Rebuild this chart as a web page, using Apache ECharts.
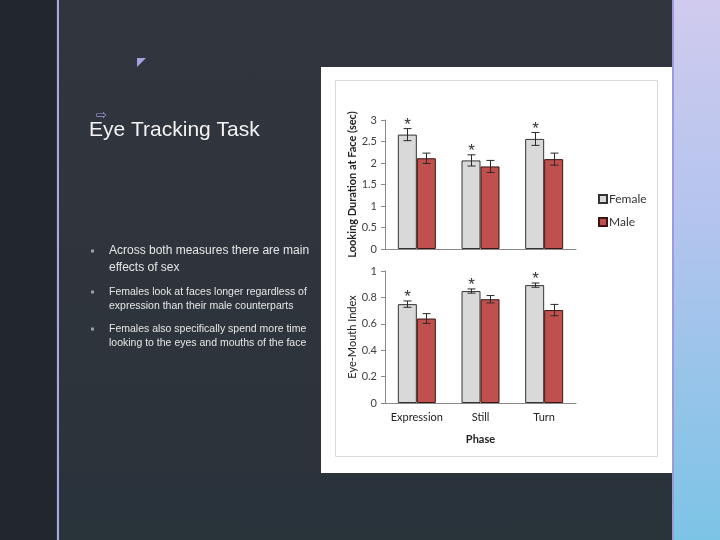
<!DOCTYPE html>
<html>
<head>
<meta charset="utf-8">
<script src="https://cdn.jsdelivr.net/npm/echarts@6/dist/echarts.min.js"></script>
<style>
  html, body { margin: 0; padding: 0; }
  #slide {
    width: 720px; height: 540px;
    background: linear-gradient(180deg, #31363e 0%, #2e343c 60%, #29333a 100%);
  }
</style>
</head>
<body>
<div id="slide"></div>
<script>
// chart data
var phases = ['Expression', 'Still', 'Turn'];
var seriesNames = ['Female', 'Male'];

var durationFemale = [2.66, 2.06, 2.56];
var durationFemaleErr = [0.14, 0.13, 0.15];
var durationMale = [2.11, 1.92, 2.09];
var durationMaleErr = [0.12, 0.14, 0.14];

var indexFemale = [0.749, 0.848, 0.893];
var indexFemaleErr = [0.024, 0.016, 0.016];
var indexMale = [0.640, 0.786, 0.704];
var indexMaleErr = [0.037, 0.028, 0.043];

var bullets = [
  ['Across both measures there are main', 'effects of sex'],
  ['Females look at faces longer regardless of', 'expression than their male counterparts'],
  ['Females also specifically spend more time', 'looking to the eyes and mouths of the face']
];

var chart = echarts.init(document.getElementById('slide'));

var BAR_W = 19;
var chartFont = 'Lato';
var tickColor = '#404040';

function errData(vals, errs) {
  return vals.map(function (v, i) { return [i, v, errs[i]]; });
}

// error bars, optional star above
function errRender(offset, star) {
  return function (params, api) {
    var i = api.value(0), v = api.value(1), e = api.value(2);
    var hi = api.coord([i, v + e]);
    var lo = api.coord([i, v - e]);
    var x = Math.round(hi[0] + offset) + 0.5;
    var st = { stroke: '#2a2a2a', lineWidth: 1 };
    var kids = [
      { type: 'line', shape: { x1: x, y1: hi[1], x2: x, y2: lo[1] }, style: st },
      { type: 'line', shape: { x1: x - 4, y1: hi[1], x2: x + 4, y2: hi[1] }, style: st },
      { type: 'line', shape: { x1: x - 4, y1: lo[1], x2: x + 4, y2: lo[1] }, style: st }
    ];
    if (star) {
      kids.push({
        type: 'text',
        style: {
          text: '*', x: x, y: hi[1] + 5, align: 'center', verticalAlign: 'bottom',
          fontSize: 17, fontFamily: 'Liberation Sans', fill: '#333'
        }
      });
    }
    return { type: 'group', children: kids };
  };
}

function valueAxis(gridIndex, max, interval, name, nameGap, weight) {
  return {
    type: 'value', gridIndex: gridIndex, min: 0, max: max, interval: interval,
    name: name, nameLocation: 'middle', nameRotate: 90, nameGap: nameGap,
    nameTextStyle: { color: '#222', fontSize: 11, fontWeight: weight, fontFamily: chartFont },
    axisLine: { show: true, lineStyle: { color: '#8a8a8a' } },
    axisTick: { show: true, length: 4, lineStyle: { color: '#8a8a8a' } },
    axisLabel: { color: tickColor, fontSize: 11, margin: 8, fontFamily: chartFont },
    splitLine: { show: false }
  };
}

// slide decoration + left text
var graphics = [
  { type: 'rect', z: -10, shape: { x: 0, y: 0, width: 57, height: 540 }, style: { fill: '#22272e' } },
  { type: 'rect', z: -10, shape: { x: 56, y: 0, width: 4, height: 540 }, style: { fill: '#2f3152' } },
  { type: 'rect', z: -10, shape: { x: 57, y: 0, width: 2, height: 540 }, style: { fill: '#a9a9da' } },
  {
    type: 'rect', z: -10, shape: { x: 672, y: 0, width: 48, height: 540 },
    style: {
      fill: new echarts.graphic.LinearGradient(0, 0, 0, 1, [
        { offset: 0, color: '#d0cbee' }, { offset: 0.4, color: '#b4c4ee' },
        { offset: 1, color: '#7cc4e6' }
      ])
    }
  },
  { type: 'rect', z: -10, shape: { x: 672, y: 0, width: 2, height: 540 }, style: { fill: '#9d9bd9' } },
  { type: 'polygon', z: -10, shape: { points: [[137, 58], [146, 58], [137, 67]] }, style: { fill: '#a3a3e3' } },
  {
    type: 'text', z: -10, x: 96, y: 116,
    style: { text: '\u21E8', fontSize: 13, fontFamily: 'DejaVu Sans', fill: '#9a9ad8', verticalAlign: 'middle' }
  },
  {
    type: 'text', z: -10, x: 89, y: 130,
    style: { text: 'Eye Tracking Task', fontSize: 21, fontFamily: 'Liberation Sans', fill: '#f2f2f2', verticalAlign: 'middle' }
  },
  // chart panel
  { type: 'rect', z: -10, shape: { x: 321, y: 67, width: 351, height: 406 }, style: { fill: '#ffffff' } },
  { type: 'rect', z: -9, shape: { x: 335.5, y: 80.5, width: 322, height: 376 }, style: { fill: 'none', stroke: '#d9d9d9', lineWidth: 1 } }
];

var bulletY = [251, 292, 329];
var bulletSize = [12, 10.5, 10.5];
var lineStep = [17, 14, 14];
bullets.forEach(function (lines, b) {
  graphics.push({ type: 'rect', z: -10, shape: { x: 91, y: bulletY[b] - 1.5, width: 3, height: 3 }, style: { fill: '#9aa0a8' } });
  lines.forEach(function (t, k) {
    graphics.push({
      type: 'text', z: -10, x: 109, y: bulletY[b] + k * lineStep[b],
      style: { text: t, fontSize: bulletSize[b], fontFamily: 'Liberation Sans', fill: '#e6e6e6', verticalAlign: 'middle' }
    });
  });
});

var femaleStyle = { color: '#d9d9d9', borderColor: '#333', borderWidth: 1 };
var maleStyle = { color: '#c0504d', borderColor: '#3a1514', borderWidth: 1 };

chart.setOption({
  animation: false,
  textStyle: { fontFamily: chartFont },
  graphic: graphics,
  legend: {
    data: seriesNames, orient: 'vertical', left: 593, top: 188,
    itemWidth: 8, itemHeight: 8, itemGap: 11, icon: 'rect',
    textStyle: { color: '#333', fontSize: 12, fontFamily: chartFont, padding: [0, 0, 0, -3] }
  },
  grid: [
    { left: 385, top: 120, width: 191, height: 129 },
    { left: 385, top: 271, width: 191, height: 132 }
  ],
  xAxis: [
    {
      type: 'category', gridIndex: 0, data: phases,
      axisLine: { lineStyle: { color: '#8a8a8a' } },
      axisTick: { length: 4, lineStyle: { color: '#8a8a8a' } },
      axisLabel: { show: false }
    },
    {
      type: 'category', gridIndex: 1, data: phases,
      name: 'Phase', nameLocation: 'middle', nameGap: 31,
      nameTextStyle: { color: '#222', fontSize: 11, fontWeight: 'bold', fontFamily: chartFont },
      axisLine: { lineStyle: { color: '#8a8a8a' } },
      axisTick: { length: 4, lineStyle: { color: '#8a8a8a' } },
      axisLabel: { interval: 0, color: '#222', fontSize: 11, margin: 9, fontFamily: chartFont }
    }
  ],
  yAxis: [
    valueAxis(0, 3, 0.5, 'Looking Duration at Face (sec)', 27, 'bold'),
    valueAxis(1, 1, 0.2, 'Eye-Mouth Index', 27, 'normal')
  ],
  series: [
    { name: 'Female', type: 'bar', xAxisIndex: 0, yAxisIndex: 0, data: durationFemale, barWidth: BAR_W, barGap: '0%', itemStyle: femaleStyle },
    { name: 'Male', type: 'bar', xAxisIndex: 0, yAxisIndex: 0, data: durationMale, barWidth: BAR_W, barGap: '0%', itemStyle: maleStyle },
    { name: 'Female', type: 'bar', xAxisIndex: 1, yAxisIndex: 1, data: indexFemale, barWidth: BAR_W, barGap: '0%', itemStyle: femaleStyle },
    { name: 'Male', type: 'bar', xAxisIndex: 1, yAxisIndex: 1, data: indexMale, barWidth: BAR_W, barGap: '0%', itemStyle: maleStyle },
    { type: 'custom', xAxisIndex: 0, yAxisIndex: 0, z: 5, data: errData(durationFemale, durationFemaleErr), renderItem: errRender(-BAR_W / 2, true), encode: { x: 0, y: 1 } },
    { type: 'custom', xAxisIndex: 0, yAxisIndex: 0, z: 5, data: errData(durationMale, durationMaleErr), renderItem: errRender(BAR_W / 2, false), encode: { x: 0, y: 1 } },
    { type: 'custom', xAxisIndex: 1, yAxisIndex: 1, z: 5, data: errData(indexFemale, indexFemaleErr), renderItem: errRender(-BAR_W / 2, true), encode: { x: 0, y: 1 } },
    { type: 'custom', xAxisIndex: 1, yAxisIndex: 1, z: 5, data: errData(indexMale, indexMaleErr), renderItem: errRender(BAR_W / 2, false), encode: { x: 0, y: 1 } }
  ]
});
</script>
</body>
</html>
